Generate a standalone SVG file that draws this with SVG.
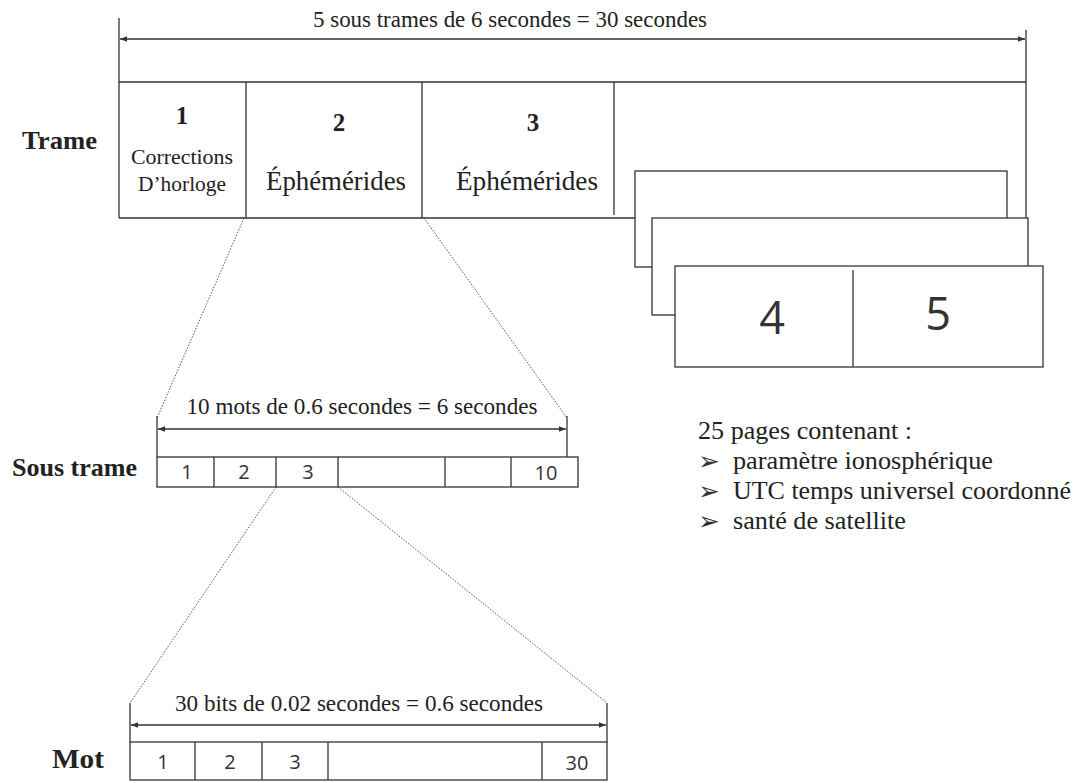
<svg xmlns="http://www.w3.org/2000/svg" width="1073" height="783" viewBox="0 0 1073 783">
<style>
.ln{stroke:#333;stroke-width:1.3;fill:none}
.box{stroke:#333;stroke-width:1.3;fill:#fff}
.dot{stroke:#555;stroke-width:1;stroke-dasharray:1.5 1.5;fill:none}
.serif{font-family:"Liberation Serif","Times New Roman",serif;fill:#222}
.b{font-weight:bold}
.sans{font-family:"Open Sans","Liberation Sans",sans-serif;fill:#333}
.mid{text-anchor:middle}
.bul{font-family:"DejaVu Sans",sans-serif;fill:#333;font-size:26px}
</style>
<defs>
<marker id="ah" viewBox="0 0 10 10" refX="10" refY="5" markerWidth="9" markerHeight="7" orient="auto-start-reverse" markerUnits="userSpaceOnUse">
<path d="M0,1 L10,5 L0,9 Z" fill="#333"/>
</marker>
</defs>
<rect width="1073" height="783" fill="#fff"/>

<g id="connectors">
<line class="dot" x1="244" y1="218" x2="157" y2="418"/>
<line class="dot" x1="424" y1="218" x2="567" y2="418"/>
<line class="dot" x1="276" y1="487" x2="130" y2="703"/>
<line class="dot" x1="338" y1="487" x2="607" y2="703"/>
</g>

<g id="trame">
<line class="ln" x1="119" y1="18" x2="119" y2="218"/>
<line class="ln" x1="1026" y1="30" x2="1026" y2="218"/>
<line class="ln" x1="120" y1="39" x2="1025" y2="39" marker-start="url(#ah)" marker-end="url(#ah)"/>
<text class="serif mid" x="510" y="27" font-size="23" textLength="394" lengthAdjust="spacingAndGlyphs">5 sous trames de 6 secondes = 30 secondes</text>
<path class="ln" d="M119,82 H1026 M119,218 H640"/>
<line class="ln" x1="246" y1="82" x2="246" y2="218"/>
<line class="ln" x1="422" y1="82" x2="422" y2="218"/>
<line class="ln" x1="614" y1="82" x2="614" y2="215"/>
<text class="serif b" x="22" y="149" font-size="26" textLength="75" lengthAdjust="spacingAndGlyphs">Trame</text>
<text class="serif b mid" x="182" y="124" font-size="25">1</text>
<text class="serif mid" x="182" y="164" font-size="21" textLength="102" lengthAdjust="spacingAndGlyphs">Corrections</text>
<text class="serif mid" x="182" y="191" font-size="21" textLength="88" lengthAdjust="spacingAndGlyphs">D’horloge</text>
<text class="serif b mid" x="339" y="131" font-size="25">2</text>
<text class="serif mid" x="336" y="190" font-size="27" textLength="140" lengthAdjust="spacingAndGlyphs">Éphémérides</text>
<text class="serif b mid" x="533" y="131" font-size="25">3</text>
<text class="serif mid" x="527" y="190" font-size="27" textLength="142" lengthAdjust="spacingAndGlyphs">Éphémérides</text>
</g>

<g id="pages">
<rect class="box" x="635" y="171" width="372" height="96"/>
<rect class="box" x="652" y="218" width="376" height="97"/>
<rect class="box" x="675" y="266" width="368" height="101"/>
<line class="ln" x1="853" y1="270" x2="853" y2="367"/>
<text class="sans mid" x="772" y="334" font-size="45" fill="#444">4</text>
<text class="sans mid" x="938" y="330" font-size="45" fill="#444">5</text>
</g>

<g id="sous-trame">
<line class="ln" x1="157" y1="416" x2="157" y2="457"/>
<line class="ln" x1="567" y1="416" x2="567" y2="457"/>
<line class="ln" x1="158" y1="429" x2="566" y2="429" marker-start="url(#ah)" marker-end="url(#ah)"/>
<text class="serif mid" x="362" y="414" font-size="23" textLength="351" lengthAdjust="spacingAndGlyphs">10 mots de 0.6 secondes = 6 secondes</text>
<text class="serif b" x="12" y="476" font-size="26" textLength="125" lengthAdjust="spacingAndGlyphs">Sous trame</text>
<rect class="box" x="157" y="457" width="421" height="30"/>
<path class="ln" d="M214,457 V487 M276,457 V487 M338,457 V487 M445,457 V487 M511,457 V487"/>
<text class="sans mid" x="187" y="479" font-size="20">1</text>
<text class="sans mid" x="244" y="479" font-size="20">2</text>
<text class="sans mid" x="308" y="479" font-size="20">3</text>
<text class="sans mid" x="546" y="480" font-size="20">10</text>
</g>

<g id="mot">
<line class="ln" x1="130" y1="703" x2="130" y2="742"/>
<line class="ln" x1="607" y1="703" x2="607" y2="742"/>
<line class="ln" x1="131" y1="725" x2="606" y2="725" marker-start="url(#ah)" marker-end="url(#ah)"/>
<text class="serif mid" x="359" y="711" font-size="23" textLength="368" lengthAdjust="spacingAndGlyphs">30 bits de 0.02 secondes = 0.6 secondes</text>
<text class="serif b" x="52" y="768" font-size="27" textLength="52" lengthAdjust="spacingAndGlyphs">Mot</text>
<rect class="box" x="130" y="742" width="477" height="38"/>
<path class="ln" d="M195,742 V780 M262,742 V780 M328,742 V780 M542,742 V780"/>
<text class="sans mid" x="163" y="769" font-size="20">1</text>
<text class="sans mid" x="230" y="769" font-size="20">2</text>
<text class="sans mid" x="295" y="769" font-size="20">3</text>
<text class="sans mid" x="577" y="770" font-size="20">30</text>
</g>

<g id="liste">
<text class="serif" x="698" y="439" font-size="26" textLength="214" lengthAdjust="spacingAndGlyphs">25 pages contenant :</text>
<text class="bul" x="698" y="470">➢</text>
<text class="serif" x="733" y="469" font-size="26" textLength="260" lengthAdjust="spacingAndGlyphs">paramètre ionosphérique</text>
<text class="bul" x="698" y="500">➢</text>
<text class="serif" x="733" y="499" font-size="26" textLength="338" lengthAdjust="spacingAndGlyphs">UTC temps universel coordonné</text>
<text class="bul" x="698" y="530">➢</text>
<text class="serif" x="733" y="529" font-size="26" textLength="173" lengthAdjust="spacingAndGlyphs">santé de satellite</text>
</g>
</svg>
